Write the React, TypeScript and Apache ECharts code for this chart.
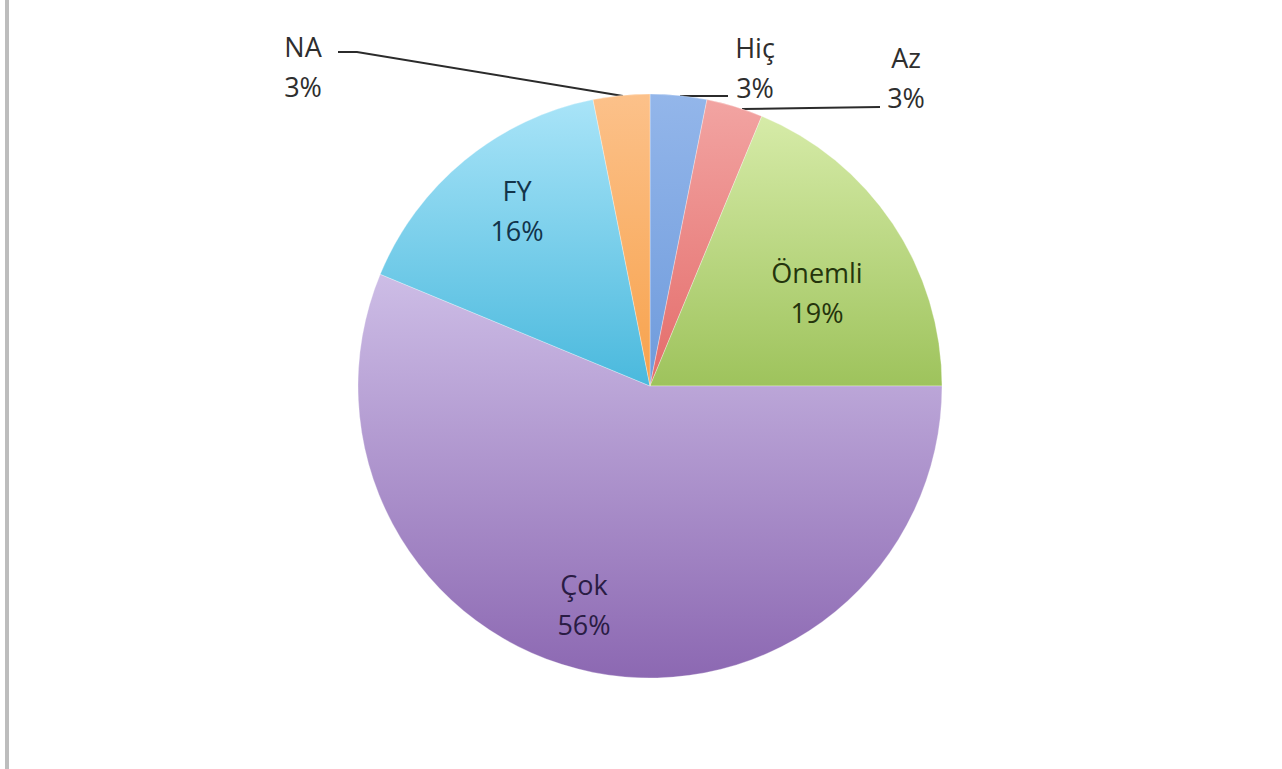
import React, { useEffect, useRef } from "react";
import * as echarts from "echarts";

const categories = ["Hiç", "Az", "Önemli", "Çok", "FY", "NA"];
const counts = [1, 1, 6, 18, 5, 1];
const topColors = ["#93b6ea", "#f2a4a2", "#d6eba8", "#cdbde6", "#a9e4f8", "#fcc18a"];
const bottomColors = ["#6f9bdc", "#e46c6a", "#9ec35c", "#8c68b2", "#4ab9dd", "#f7a24c"];
const labelColors = ["#2e2e2e", "#2e2e2e", "#24340c", "#2a1c44", "#12344a", "#2e2e2e"];
const insideSet = ["Önemli", "Çok", "FY"];
// label block centres (pixels)
const labelPos: Record<string, [number, number]> = {
  "Hiç": [755, 67],
  "Az": [906, 77],
  "Önemli": [817, 292],
  "Çok": [584, 604],
  "FY": [517, 210],
  "NA": [303, 66],
};
// leader line routes (pixels)
const leaderLines: Record<string, number[][]> = {
  "Hiç": [[680, 96], [704, 96], [728, 96]],
  "Az": [[742, 109], [810, 108], [880, 107]],
  "NA": [[623, 96], [357, 52], [338, 52]],
};

export default function App() {
  const ref = useRef<HTMLDivElement>(null);
  useEffect(() => {
    const chart = echarts.init(ref.current!, null, { renderer: "svg" });
    const data = categories.map((name, i) => {
      const inside = insideSet.includes(name);
      return {
        name,
        value: counts[i],
        itemStyle: {
          color: new echarts.graphic.LinearGradient(0, 0, 0, 1, [
            { offset: 0, color: topColors[i] },
            { offset: 1, color: bottomColors[i] },
          ]),
        },
        label: {
          position: inside ? "inside" : "outside",
          color: labelColors[i],
        },
        labelLine: { show: !inside },
      };
    });
    chart.setOption({
      animation: false,
      backgroundColor: "#ffffff",
      graphic: [
        { type: "rect", shape: { x: 5, y: 0, width: 4, height: 769 }, style: { fill: "#bdbdbd" } },
      ],
      series: [
        {
          type: "pie",
          center: [650, 386],
          radius: [0, 292],
          startAngle: 90,
          clockwise: true,
          data,
          itemStyle: { borderColor: "rgba(255,255,255,0.6)", borderWidth: 0.5 },
          label: {
            show: true,
            fontFamily: "Open Sans",
            fontSize: 27,
            lineHeight: 40,
            align: "center",
            formatter: (p: any) => `${p.name}\n${Math.round(p.percent)}%`,
          },
          labelLine: {
            show: true,
            length: 15,
            length2: 40,
            smooth: false,
            lineStyle: { color: "#2b2b2b", width: 2 },
          },
          labelLayout: (p: any) => {
            const name = categories[p.dataIndex];
            const pos = labelPos[name];
            const res: any = { x: pos[0], y: pos[1], align: "center", verticalAlign: "middle" };
            if (leaderLines[name]) res.labelLinePoints = leaderLines[name];
            return res;
          },
          emphasis: { disabled: true },
        },
      ],
    });
    return () => chart.dispose();
  }, []);
  return (
    <div
      ref={ref}
      style={{ position: "fixed", left: 0, top: 0, width: 1282, height: 769 }}
    />
  );
}
